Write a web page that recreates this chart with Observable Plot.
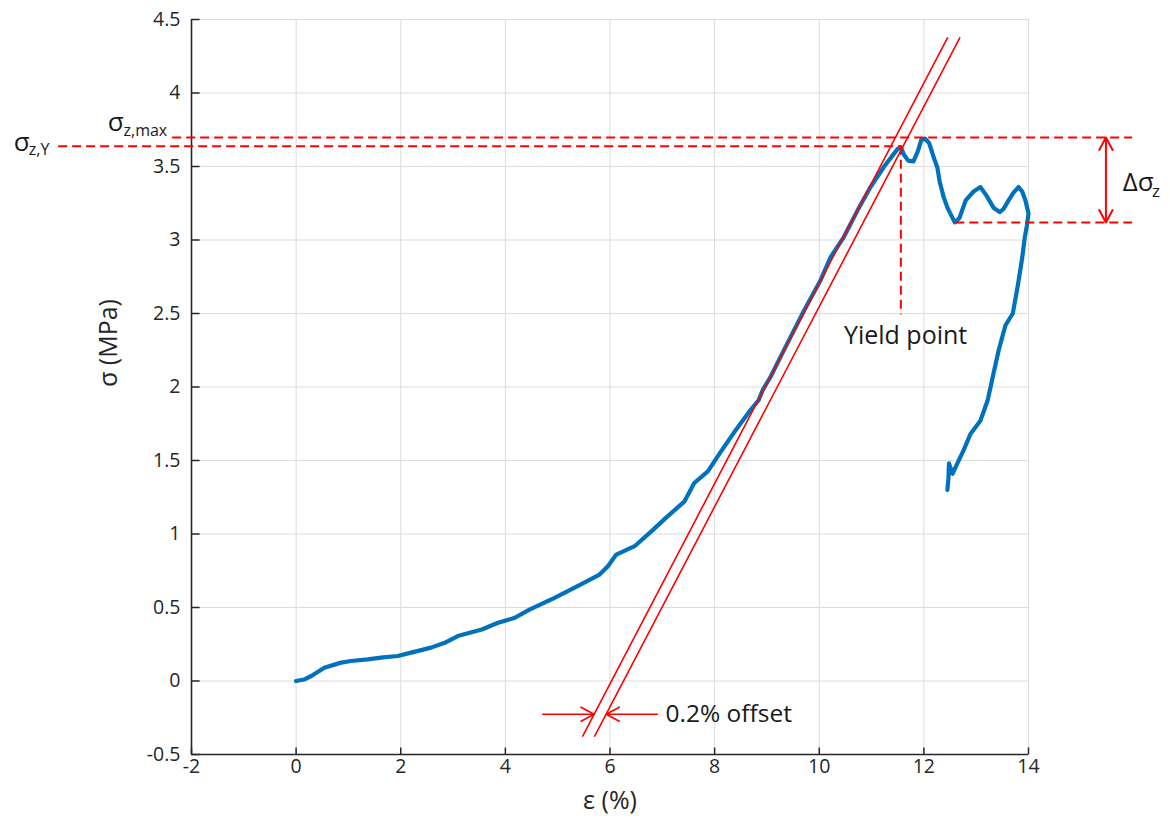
<!DOCTYPE html>
<html>
<head>
<meta charset="utf-8">
<script src="https://cdn.jsdelivr.net/npm/d3@7"></script>
<script src="https://cdn.jsdelivr.net/npm/@observablehq/plot@0.6"></script>
<style>
  body { margin: 0; background: #fff; }
  #chart svg { font-family: "Open Sans", sans-serif; overflow: visible; }
</style>
</head>
<body>
<div id="chart"></div>
<script>
// ---- data ----
const strain = [0, 0.15, 0.29, 0.54, 0.86, 1.05, 1.37, 1.62, 1.94, 2.2, 2.58, 2.84, 3.09, 3.55, 3.86, 4.18, 4.46, 4.94, 5.38, 5.80, 5.96, 6.12, 6.47, 6.79, 7.10, 7.42, 7.61, 7.87, 8.10, 8.37, 8.69, 8.84, 8.92, 9.07, 9.39, 9.71, 10.03, 10.22, 10.47, 10.73, 10.98, 11.24, 11.50, 11.56, 11.62, 11.70, 11.80, 11.88, 11.95, 12.02, 12.10, 12.20, 12.26, 12.30, 12.38, 12.45, 12.59, 12.68, 12.80, 12.95, 13.08, 13.20, 13.33, 13.45, 13.52, 13.62, 13.71, 13.81, 13.88, 13.94, 14.00, 13.97, 13.93, 13.88, 13.80, 13.70, 13.56, 13.43, 13.33, 13.22, 13.08, 12.89, 12.76, 12.64, 12.55, 12.50, 12.48, 12.47, 12.45];
const stress = [0, 0.01, 0.034, 0.09, 0.125, 0.136, 0.147, 0.159, 0.17, 0.193, 0.227, 0.26, 0.306, 0.35, 0.396, 0.43, 0.486, 0.566, 0.645, 0.724, 0.78, 0.86, 0.917, 1.018, 1.12, 1.22, 1.347, 1.426, 1.55, 1.69, 1.845, 1.91, 1.98, 2.07, 2.297, 2.52, 2.73, 2.885, 3.02, 3.20, 3.36, 3.50, 3.62, 3.632, 3.58, 3.54, 3.535, 3.60, 3.68, 3.69, 3.66, 3.55, 3.49, 3.40, 3.29, 3.22, 3.12, 3.15, 3.27, 3.33, 3.36, 3.30, 3.22, 3.19, 3.21, 3.27, 3.32, 3.36, 3.33, 3.27, 3.18, 3.10, 3.02, 2.88, 2.70, 2.50, 2.42, 2.25, 2.09, 1.91, 1.77, 1.68, 1.57, 1.48, 1.41, 1.46, 1.48, 1.38, 1.30];

const xTicks = [-2, 0, 2, 4, 6, 8, 10, 12, 14];
const yTicks = [-0.5, 0, 0.5, 1, 1.5, 2, 2.5, 3, 3.5, 4, 4.5];
const xDomain = [-2, 14];
const yDomain = [-0.5, 4.5];
// inward tick lengths, in data units
const xTickLen = 0.048;
const yTickLen = 0.155;

// offset (elastic) lines
const offsetLine1Strain = [5.478, 12.451];
const offsetLine2Strain = [5.707, 12.686];
const offsetLineStress = [-0.375, 4.375];

// annotation levels
const sigmaMax = 3.698;
const sigmaYield = 3.637;
const sigmaLow = 3.119;
const yieldStrain = 11.56;
const yieldLineBottom = 2.49;
const sigmaMaxLineStrain = [-2.36, 15.99];
const sigmaYieldLineStrain = [-4.54, yieldStrain];
const sigmaLowLineStrain = [12.61, 15.99];
const deltaArrowStrain = 15.48;
const offsetArrowStress = -0.226;
const offsetArrowLeft = [4.713, 5.697];
const offsetArrowRight = [6.906, 5.926];

// label positions
const labels = [
  {text: "σ", x: -3.60, y: 3.80, size: 26},
  {text: "z,max", x: -3.30, y: 3.745, size: 16},
  {text: "σ", x: -5.40, y: 3.665, size: 26},
  {text: "z,Y", x: -5.11, y: 3.61, size: 16},
  {text: "Δσ", x: 15.80, y: 3.39, size: 26},
  {text: "z", x: 16.36, y: 3.33, size: 17},
  {text: "0.2% offset", x: 7.06, y: -0.226, size: 24.5},
];
const yieldLabel = {text: "Yield point", x: 11.65, y: 2.35};

const curve = strain.map((e, i) => ({e, s: stress[i]}));
const line1 = offsetLine1Strain.map((e, i) => ({e, s: offsetLineStress[i]}));
const line2 = offsetLine2Strain.map((e, i) => ({e, s: offsetLineStress[i]}));

const red = "#ff0000";
const dash = "9,5";
const axisColor = "#262626";

const chart = Plot.plot({
  width: 1170,
  height: 825,
  marginLeft: 191,
  marginRight: 142,
  marginTop: 19,
  marginBottom: 71,
  style: {fontFamily: "'Open Sans', sans-serif", background: "#fff", overflow: "visible"},
  x: {domain: xDomain, axis: null},
  y: {domain: yDomain, axis: null},
  marks: [
    Plot.gridX(xTicks, {stroke: "#dcdcdc", strokeOpacity: 1, strokeWidth: 1}),
    Plot.gridY(yTicks, {stroke: "#dcdcdc", strokeOpacity: 1, strokeWidth: 1}),
    Plot.axisX(xTicks, {anchor: "bottom", tickSize: 0, tickPadding: 5, fontSize: 19.5, fill: axisColor, tickFormat: d => String(d)}),
    Plot.axisY(yTicks, {anchor: "left", tickSize: 0, tickPadding: 11, fontSize: 19.5, fill: axisColor, tickFormat: d => String(d)}),
    // inward tick marks
    Plot.link(xTicks, {x1: d => d, x2: d => d, y1: yDomain[0], y2: yDomain[0] + xTickLen, stroke: axisColor, strokeWidth: 1.5}),
    Plot.link(yTicks, {y1: d => d, y2: d => d, x1: xDomain[0], x2: xDomain[0] + yTickLen, stroke: axisColor, strokeWidth: 1.5}),
    Plot.ruleX([xDomain[0]], {stroke: axisColor, strokeWidth: 1.6}),
    Plot.ruleY([yDomain[0]], {stroke: axisColor, strokeWidth: 1.6}),
    Plot.text(["ε (%)"], {text: d => d, frameAnchor: "bottom", dy: 54, fontSize: 25, fill: axisColor}),
    Plot.text(["σ (MPa)"], {text: d => d, frameAnchor: "left", rotate: -90, dx: -83, fontSize: 25, fill: axisColor}),
    // stress-strain curve
    Plot.line(curve, {x: "e", y: "s", stroke: "#0072bd", strokeWidth: 4.2, strokeLinejoin: "round", strokeLinecap: "round"}),
    // offset lines
    Plot.line(line1, {x: "e", y: "s", stroke: red, strokeWidth: 1.6}),
    Plot.line(line2, {x: "e", y: "s", stroke: red, strokeWidth: 1.6}),
    // dashed guide lines
    Plot.ruleY([sigmaMax], {x1: sigmaMaxLineStrain[0], x2: sigmaMaxLineStrain[1], stroke: red, strokeWidth: 2, strokeDasharray: dash}),
    Plot.ruleY([sigmaYield], {x1: sigmaYieldLineStrain[0], x2: sigmaYieldLineStrain[1], stroke: red, strokeWidth: 2, strokeDasharray: dash}),
    Plot.ruleY([sigmaLow], {x1: sigmaLowLineStrain[0], x2: sigmaLowLineStrain[1], stroke: red, strokeWidth: 2, strokeDasharray: dash}),
    Plot.ruleX([yieldStrain], {y1: sigmaYield, y2: yieldLineBottom, stroke: red, strokeWidth: 2, strokeDasharray: dash}),
    // Δσ arrow (double-headed)
    Plot.arrow([{x1: deltaArrowStrain, y1: (sigmaMax + sigmaLow) / 2, x2: deltaArrowStrain, y2: sigmaMax},
                {x1: deltaArrowStrain, y1: (sigmaMax + sigmaLow) / 2, x2: deltaArrowStrain, y2: sigmaLow}],
      {x1: "x1", y1: "y1", x2: "x2", y2: "y2", stroke: red, strokeWidth: 2, headLength: 17, headAngle: 56}),
    // 0.2% offset arrows
    Plot.arrow([{x1: offsetArrowLeft[0], x2: offsetArrowLeft[1]}, {x1: offsetArrowRight[0], x2: offsetArrowRight[1]}],
      {x1: "x1", x2: "x2", y1: offsetArrowStress, y2: offsetArrowStress, stroke: red, strokeWidth: 1.6, headLength: 14, headAngle: 56}),
    // labels
    Plot.text(labels, {x: "x", y: "y", text: "text", fontSize: "size", textAnchor: "start", fill: "#1a1a1a"}),
    Plot.text([yieldLabel], {x: "x", y: "y", text: "text", fontSize: 25, textAnchor: "middle", fill: "#1a1a1a"}),
  ]
});
document.getElementById("chart").appendChild(chart);
</script>
</body>
</html>
